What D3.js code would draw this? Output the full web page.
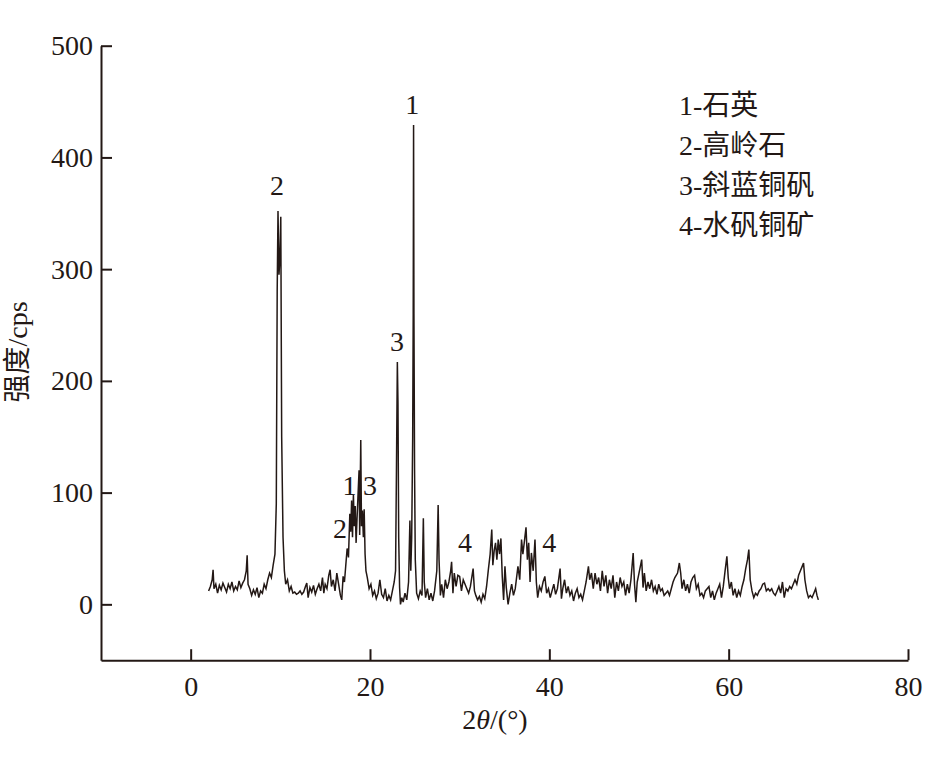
<!DOCTYPE html>
<html>
<head>
<meta charset="utf-8">
<script src="https://cdn.jsdelivr.net/npm/d3@7/dist/d3.min.js"></script>
<style>
  html, body { margin: 0; padding: 0; background: #fff; }
  svg { display: block; }
  text { fill: #231815; }
</style>
</head>
<body>
<svg id="chart" width="925" height="764"></svg>
<script>
// ---------- data ----------
const twoTheta = [
  2.0,2.2,2.4,2.5,2.6,2.8,3.0,3.2,3.4,3.6,3.8,4.0,4.2,4.4,4.6,4.8,5.0,5.2,5.4,5.6,5.8,6.0,6.2,6.3,6.4,6.6,6.8,7.0,7.2,7.4,7.6,7.8,8.0,8.2,8.4,8.6,8.8,9.0,9.2,9.4,
  9.55,9.65,9.74,9.85,9.95,10.05,10.15,10.3,10.45,10.6,10.8,11.0,11.2,11.4,11.6,11.8,12.0,12.2,12.4,12.6,12.8,12.95,13.1,13.3,13.5,13.7,13.9,14.1,14.3,14.5,14.7,14.85,
  15.0,15.2,15.4,15.55,15.7,15.9,16.1,16.3,16.5,16.7,16.85,17.0,17.15,17.3,17.45,17.6,17.75,17.85,17.95,18.05,18.15,18.25,18.35,18.45,18.55,18.65,18.78,18.85,18.97,
  19.05,19.15,19.26,19.35,19.45,19.55,19.7,19.9,20.1,20.3,20.5,20.7,20.9,21.1,21.3,21.5,21.7,21.9,22.1,22.3,22.5,22.7,22.85,22.95,23.05,23.12,23.2,23.3,23.4,23.55,
  23.7,23.9,24.1,24.3,24.45,24.55,24.65,24.76,24.82,24.86,24.9,24.97,25.05,25.2,25.4,25.6,25.8,25.95,26.05,26.2,26.4,26.6,26.8,27.0,27.2,27.45,27.6,27.7,27.85,28.0,28.2,28.4,
  28.6,28.8,29.0,29.1,29.25,29.4,29.6,29.8,30.0,30.2,30.4,30.6,30.8,31.0,31.2,31.5,31.65,31.8,32.0,32.2,32.4,32.6,32.8,33.0,33.2,33.4,33.58,33.7,33.85,34.0,34.15,
  34.3,34.45,34.6,34.75,34.9,35.05,35.2,35.4,35.6,35.8,36.0,36.2,36.5,36.7,36.9,37.05,37.2,37.4,37.55,37.7,37.85,38.0,38.2,38.4,38.55,38.7,38.9,39.1,39.3,39.5,39.7,
  39.9,40.1,40.3,40.5,40.7,40.9,41.2,41.35,41.5,41.7,41.9,42.1,42.3,42.5,42.7,42.9,43.1,43.3,43.5,43.7,43.9,44.1,44.36,44.5,44.7,44.9,45.1,45.3,45.5,45.7,45.9,46.1,
  46.3,46.5,46.7,46.9,47.1,47.3,47.5,47.7,47.9,48.1,48.3,48.5,48.7,48.9,49.1,49.35,49.5,49.65,49.8,50.0,50.3,50.45,50.6,50.8,51.0,51.2,51.4,51.6,51.8,52.0,52.2,52.4,
  52.6,52.8,53.0,53.2,53.4,53.6,53.8,54.0,54.3,54.5,54.65,54.8,55.0,55.2,55.4,55.6,55.8,56.0,56.2,56.4,56.6,56.8,57.0,57.2,57.4,57.6,57.8,58.0,58.2,58.4,58.6,58.8,
  59.0,59.2,59.4,59.6,59.8,59.95,60.1,60.3,60.5,60.7,60.9,61.1,61.3,61.5,61.7,61.9,62.1,62.25,62.4,62.6,62.8,63.0,63.2,63.4,63.6,63.8,64.0,64.2,64.4,64.6,64.8,65.0,
  65.2,65.4,65.6,65.8,66.0,66.2,66.4,66.6,66.8,67.0,67.2,67.4,67.6,67.8,68.0,68.2,68.35,68.5,68.7,68.9,69.1,69.3,69.5,69.7,69.85,70.0
];
const intensity = [
  12,16,22,31,14,18,10,17,13,19,15,11,18,14,20,12,16,13,21,15,19,22,30,44,18,14,8,13,9,15,6,12,10,18,14,22,28,24,35,45,
  90,280,352,295,310,347,150,60,30,18,22,12,16,10,11,9,10,12,9,11,16,19,6,15,11,17,9,14,18,12,24,10,
  18,14,26,31,16,22,12,28,18,8,4,25,20,35,50,42,81,65,93,60,98,70,88,55,76,95,120,62,147,
  70,84,60,85,45,30,24,14,18,8,12,5,10,22,9,6,14,3,8,4,12,20,30,120,217,180,60,15,0,6,
  2,10,4,20,75,30,60,150,260,429,260,120,40,10,5,12,8,77,20,6,14,4,10,3,12,30,89,40,8,18,6,22,
  14,20,30,38,10,28,16,26,25,12,22,18,14,10,16,32,12,8,4,7,2,9,5,16,31,45,67,35,48,55,40,
  58,45,59,25,4,34,15,0,10,18,8,14,34,22,58,45,55,69,40,55,20,46,30,58,20,6,16,12,20,25,10,
  14,6,12,18,9,14,32,5,14,22,10,16,8,12,3,10,14,6,9,4,12,20,34,22,28,14,28,18,24,12,30,16,
  26,10,22,14,26,6,20,12,24,16,20,8,18,10,22,46,18,2,20,28,40,15,28,12,20,14,22,12,16,9,18,12,
  14,8,10,12,8,14,20,24,28,37,28,14,22,12,18,10,20,24,26,14,18,8,10,6,12,14,16,6,12,4,10,14,
  18,6,16,30,43,24,14,20,8,14,6,12,8,16,22,32,40,49,22,12,6,10,8,12,14,18,19,12,14,12,14,10,
  8,12,16,10,20,6,14,12,16,14,18,22,18,26,30,34,37,22,12,6,8,6,10,14,8,4
];
const xTicks = [0, 20, 40, 60, 80];
const yTicks = [0, 100, 200, 300, 400, 500];
const peakLabels = ["2", "1", "3", "1", "3", "2", "4", "4"];
const peakLabelX = [9.63, 24.7, 23.0, 17.7, 20.0, 16.65, 30.6, 40.0];
const peakLabelY = [366, 439, 227, 98, 98, 59, 47, 47];
const legendItems = ["1-石英", "2-高岭石", "3-斜蓝铜矾", "4-水矾铜矿"];

// ---------- layout ----------
const ink = "#231815";
const svg = d3.select("#chart");
const x = d3.scaleLinear().domain([-10, 80]).range([101, 908]);
const y = d3.scaleLinear().domain([-50, 500]).range([660.2, 45.7]);
const serif = "'Liberation Serif', 'Times New Roman', serif";
const mixed = "'Liberation Serif', 'Noto Sans CJK SC', serif";

// axes
const xAxis = d3.axisBottom(x).tickValues(xTicks).tickSize(-11).tickSizeOuter(0).tickPadding(16);
const yAxis = d3.axisLeft(y).tickValues(yTicks).tickSize(-11).tickSizeOuter(0).tickPadding(8);

const gx = svg.append("g").attr("transform", `translate(0,${y(-50)})`).call(xAxis);
const gy = svg.append("g").attr("transform", `translate(${x(-10)},0)`).call(yAxis);

[gx, gy].forEach(g => {
  g.selectAll("path.domain").attr("stroke", ink).attr("stroke-width", 2);
  g.selectAll(".tick line").attr("stroke", ink).attr("stroke-width", 2);
  g.selectAll(".tick text")
    .attr("fill", ink)
    .style("font-family", serif)
    .style("font-size", "28px");
});
gx.selectAll(".tick text").attr("dy", "0.72em");

// line
const pts = twoTheta.map((t, i) => [t, intensity[i]]);
const line = d3.line().x(d => x(d[0])).y(d => y(d[1]));
svg.append("path")
  .datum(pts)
  .attr("fill", "none")
  .attr("stroke", ink)
  .attr("stroke-width", 1.5)
  .attr("stroke-linejoin", "miter")
  .attr("d", line);

// peak labels
svg.append("g").selectAll("text")
  .data(peakLabels)
  .join("text")
  .attr("x", (d, i) => x(peakLabelX[i]))
  .attr("y", (d, i) => y(peakLabelY[i]))
  .attr("text-anchor", "middle")
  .style("font-family", serif)
  .style("font-size", "28px")
  .text(d => d);

// legend text
svg.append("g").selectAll("text")
  .data(legendItems)
  .join("text")
  .attr("x", 679)
  .attr("y", (d, i) => 115 + i * 40)
  .style("font-family", mixed)
  .style("font-size", "28px")
  .text(d => d);

// axis titles
const xt = svg.append("text")
  .attr("x", 495).attr("y", 729)
  .attr("text-anchor", "middle")
  .style("font-family", serif)
  .style("font-size", "28px");
xt.append("tspan").text("2");
xt.append("tspan").style("font-style", "italic").text("θ");
xt.append("tspan").text("/(°)");

svg.append("text")
  .attr("transform", "translate(27,352) rotate(-90)")
  .attr("text-anchor", "middle")
  .style("font-family", mixed)
  .style("font-size", "28px")
  .text("强度/cps");
</script>
</body>
</html>
